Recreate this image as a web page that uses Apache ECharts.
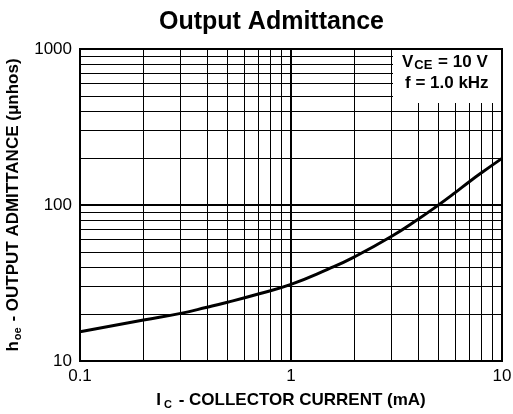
<!DOCTYPE html>
<html><head><meta charset="utf-8">
<script src="https://cdn.jsdelivr.net/npm/echarts@6/dist/echarts.min.js"></script>
<style>html,body{margin:0;padding:0;background:#fff}#c{width:513px;height:414px}</style>
</head><body><div id="c"></div>
<script>
var currentMA = [0.1, 0.2, 0.3, 0.4, 0.5, 0.7, 1, 1.5, 2, 3, 4, 5, 6, 7, 8, 10];
var admittance = [15.4, 18.3, 20.2, 22.1, 23.8, 26.9, 31, 38.8, 46.5, 63, 81, 100, 120, 141, 161, 199];
var xMinorGrid = [0.2,0.3,0.4,0.5,0.6,0.7,0.8,0.9,2,3,4,5,6,7,8,9];
var yMinorGrid = [20,30,40,50,60,70,80,90,200,300,400,500,600,700,800,900];
var xTickLabels = ['0.1', '1', '10'];
var yTickLabels = ['10', '100', '1000'];

var font = 'Liberation Sans, Arial, sans-serif';
var chart = echarts.init(document.getElementById('c'));
var ml = [];
xMinorGrid.forEach(function(v){ ml.push({xAxis: v}); });
yMinorGrid.forEach(function(v){ ml.push({yAxis: v}); });

function decadeLabel(list, v){
  var i = Math.round(Math.log10(v) - Math.log10(parseFloat(list[0])));
  return (Math.abs(Math.log10(v) - Math.round(Math.log10(v))) < 1e-6 && list[i] !== undefined) ? list[i] : '';
}

chart.setOption({
  animation: false,
  title: {text: 'Output Admittance', left: 154, top: 5,
    textStyle: {fontFamily: font, fontWeight: 'bold', fontSize: 25, color: '#000'}},
  grid: {left: 80, right: 11, top: 49, bottom: 53, show: true, borderColor: '#000', borderWidth: 2,
    containLabel: false, outerBoundsMode: 'none'},
  xAxis: {
    type: 'log', logBase: 10, min: 0.1, max: 10,
    axisLine: {show: true, lineStyle: {color: '#000', width: 2}},
    axisTick: {show: false},
    splitLine: {show: true, lineStyle: {color: '#000', width: 2}},
    axisLabel: {fontFamily: font, fontSize: 17, color: '#000', margin: 7,
      formatter: function(v){ return decadeLabel(xTickLabels, v); }},
    name: '{b|I}{s|C}{b| - COLLECTOR CURRENT (mA)}', nameLocation: 'middle', nameGap: 30,
    nameTextStyle: {rich: {
      b: {fontFamily: font, fontWeight: 'bold', fontSize: 17, color: '#000'},
      s: {fontFamily: font, fontWeight: 'bold', fontSize: 11, color: '#000', verticalAlign: 'bottom', padding: [8,2,0,3]}
    }}
  },
  yAxis: {
    type: 'log', logBase: 10, min: 10, max: 1000,
    axisLine: {show: true, lineStyle: {color: '#000', width: 2}},
    axisTick: {show: false},
    splitLine: {show: true, lineStyle: {color: '#000', width: 2}},
    axisLabel: {fontFamily: font, fontSize: 17, color: '#000', margin: 8, padding: [8,0,0,0],
      formatter: function(v){ return decadeLabel(yTickLabels, v); }},
    name: '{b|h}{s|oe}{b| - OUTPUT ADMITTANCE (μnhos)}', nameLocation: 'middle', nameGap: 52, nameRotate: 90,
    nameTextStyle: {rich: {
      b: {fontFamily: font, fontWeight: 'bold', fontSize: 17, color: '#000'},
      s: {fontFamily: font, fontWeight: 'bold', fontSize: 11, color: '#000', verticalAlign: 'bottom', padding: [8,1,0,1]}
    }}
  },
  series: [{
    type: 'line', data: currentMA.map(function(x,i){ return [x, admittance[i]]; }),
    smooth: 0.5, showSymbol: false, lineStyle: {color: '#000', width: 3}, z: 5,
    markLine: {silent: true, symbol: 'none', label: {show: false}, animation: false,
      lineStyle: {color: '#000', width: 1, type: 'solid'}, data: ml}
  }],
  graphic: [
    {type: 'rect', left: 393, top: 50, z: 100, shape: {width: 108, height: 53}, style: {fill: '#fff'}},
    {type: 'text', left: 402, top: 54, z: 101, style: {
      text: '{b|V}{s|CE}{b| = 10 V}', rich: {
        b: {fontFamily: font, fontWeight: 'bold', fontSize: 17, fill: '#000'},
        s: {fontFamily: font, fontWeight: 'bold', fontSize: 13, fill: '#000', verticalAlign: 'bottom', padding: [6,1,0,1]}
      }}},
    {type: 'text', left: 405, top: 75, z: 101, style: {
      text: 'f = 1.0 kHz', font: 'bold 17px Liberation Sans, Arial, sans-serif', fill: '#000'}}
  ]
});
</script></body></html>
